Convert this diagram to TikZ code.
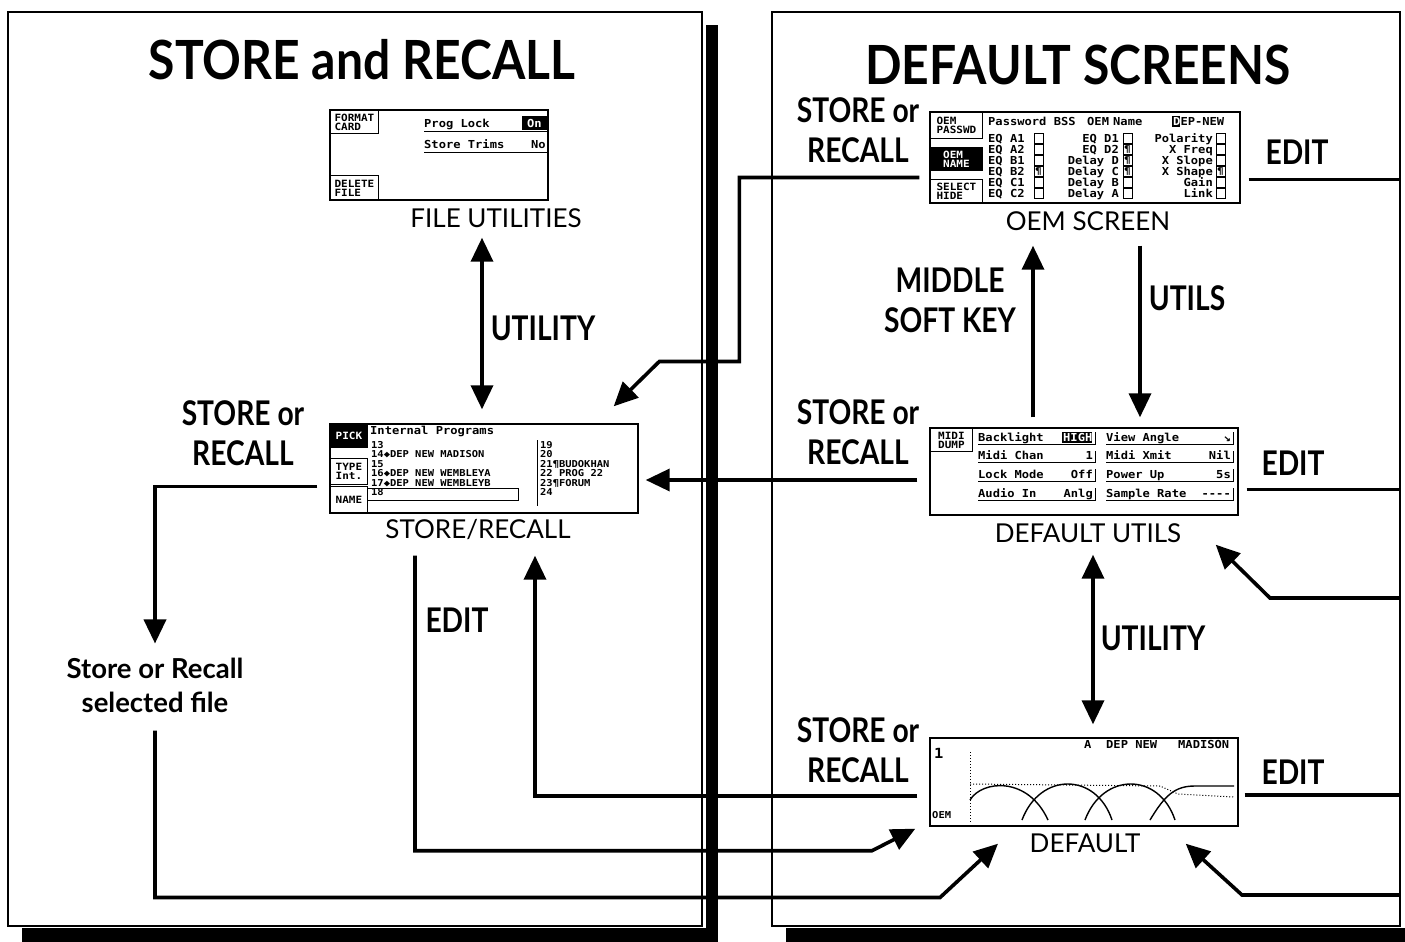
\documentclass[tikz,border=0pt]{standalone}
\usepackage{fontspec}
\setmainfont{Lato}
\newfontfamily\lblfont{Lato}[FakeStretch=0.83]
\newfontfamily\ttlfont{Lato}[FakeStretch=0.89]
\newfontfamily\lcdfont{DejaVu Sans Mono}[FakeStretch=1.1]
\usetikzlibrary{arrows.meta,positioning,calc}
\tikzset{
  >={Triangle[length=24pt,width=22pt]},
  panel/.style={draw, line width=2.6pt, fill=white},
  screen/.style={draw, line width=1.4pt, inner sep=0pt, fill=white},
  capt/.style={font=\fontsize{26}{28}\selectfont, inner sep=0pt},
  lbl/.style={font=\lblfont\bfseries\fontsize{34}{40}\selectfont, align=center, inner sep=0pt},
  ttl/.style={font=\ttlfont\bfseries\fontsize{54}{60}\selectfont, inner sep=0pt},
  lcd/.style={font=\lcdfont\bfseries\fontsize{11}{11}\selectfont, inner sep=0pt, anchor=base west},
  lcdsm/.style={font=\lcdfont\bfseries\fontsize{9.5}{9.5}\selectfont, inner sep=0pt, anchor=base west},
  softkey/.style={draw, line width=0.9pt, font=\lcdfont\bfseries\fontsize{10}{9}\selectfont,
              align=left, inner sep=1pt, anchor=north west},
  inv/.style={fill=black, text=white},
  thinln/.style={line width=0.9pt},
  flow/.style={->, line width=3.6pt},
  dflow/.style={<->, line width=3.6pt},
  link/.style={line width=3.6pt},
}
\begin{document}
\begin{tikzpicture}[x=1pt,y=-1pt]
  \useasboundingbox (0,0) rectangle (1405,942);
  % panels with drop shadow
  \fill (706,25) rectangle (718,942);
  \fill (22,928) rectangle (718,942);
  \draw[panel] (8,12) rectangle (702,926);
  \fill (786,928) rectangle (1405,942);
  \draw[panel] (772,12) rectangle (1400,926);
  \node[ttl] (ttlL) at (362,60) {STORE and RECALL};
  \node[ttl] (ttlR) at (1078,65) {DEFAULT SCREENS};

  % file utilities screen
  \node[screen, minimum width=218, minimum height=90] (fu) at (439,155) {};
  \node[softkey, minimum width=48, minimum height=23] at (330,110) {FORMAT\\CARD};
  \node[softkey, minimum width=48, minimum height=25] at (330,175) {DELETE\\FILE};
  \node[lcd] at (424,127) {Prog Lock};
  \fill (522,116) rectangle (547,130);
  \node[lcd, text=white] at (527,127) {On};
  \draw[thinln] (424,131) -- (548,131) -- (548,116);
  \node[lcd] at (424,148) {Store Trims};
  \node[lcd] at (531,148) {No};
  \draw[thinln] (424,152) -- (548,152) -- (548,137);
  \node[capt] (fucap) at (496,218) {FILE UTILITIES};

  % store/recall screen
  \node[screen, minimum width=308, minimum height=89] (sr) at (484,468.5) {};
  \node[softkey, inv, minimum width=37, minimum height=23] at (330,424) {PICK};
  \node[softkey, minimum width=37, minimum height=26] at (330,458) {TYPE\\Int.};
  \node[softkey, minimum width=37, minimum height=27] at (330,486) {NAME};
  \node[lcd] at (370,434) {Internal Programs};
  \foreach \r/\pa/\pb in {0/13/19, 1/14◆DEP NEW MADISON/20, 2/15/21¶BUDOKHAN,
                          3/16◆DEP NEW WEMBLEYA/22 PROG 22, 4/17◆DEP NEW WEMBLEYB/23¶FORUM, 5/18/24}{
    \pgfmathsetmacro{\yb}{448+9.5*\r}
    \node[lcdsm] at (371,\yb) {\pa};
    \node[lcdsm] at (540,\yb) {\pb};
  }
  \draw[thinln] (537,440) -- (537,506);
  \draw[thinln] (367,488) rectangle (518,500);
  \node[capt] (srcap) at (478,530) {STORE/RECALL};

  % oem screen
  \node[screen, minimum width=310, minimum height=91] (oem) at (1085,157.5) {};
  \node[softkey, minimum width=52, minimum height=26] at (930,112) {OEM\\PASSWD};
  \node[softkey, inv, minimum width=52, minimum height=23] at (930,147) {OEM\\NAME};
  \node[softkey, minimum width=52, minimum height=24] at (930,179) {SELECT\\HIDE};
  \node[lcd] at (988,125) {Password BSS};
  \node[lcd] at (1087,125) {OEM};
  \node[lcd] at (1113,125) {Name};
  \fill (1172,116) rectangle (1180,127);
  \node[lcd] at (1173,125) {\textcolor{white}{D}EP-NEW};
  \foreach \r/\ca/\cb/\cc/\ka/\kb/\kc in {0/EQ A1/EQ D1/Polarity/0/0/0,
                                         1/EQ A2/EQ D2/X Freq/0/1/0,
                                         2/EQ B1/Delay D/X Slope/0/1/0,
                                         3/EQ B2/Delay C/X Shape/1/1/1,
                                         4/EQ C1/Delay B/Gain/0/0/0,
                                         5/EQ C2/Delay A/Link/0/0/0}{
    \pgfmathsetmacro{\yb}{142+11*\r}
    \node[lcd] at (988,\yb) {\ca};
    \node[lcd, anchor=base east] at (1119,\yb) {\cb};
    \node[lcd, anchor=base east] at (1213,\yb) {\cc};
    \foreach \bx/\k in {1034/\ka, 1123/\kb, 1216/\kc}{
      \draw[thinln] (\bx,\yb+1) rectangle ++(9,-10);
      \ifnum\k=1 \node[lcdsm, anchor=center] at (\bx+4.5,\yb-4) {¶}; \fi
    }
  }
  \node[capt] (oemcap) at (1088,221) {OEM SCREEN};

  % default utils screen
  \node[screen, minimum width=308, minimum height=87] (du) at (1084,471.5) {};
  \node[softkey, minimum width=42, minimum height=23] at (930,428) {MIDI\\DUMP};
  \fill (1062,432) rectangle (1092,443);
  \node[lcd, text=white] at (1063,441) {HIGH};
  \foreach \r/\la/\va/\lb/\vb in {0/Backlight//View Angle/↘, 1/Midi Chan/1/Midi Xmit/Nil,
                                  2/Lock Mode/Off/Power Up/5s, 3/Audio In/Anlg/Sample Rate/----}{
    \pgfmathsetmacro{\yb}{441+18.7*\r}
    \node[lcd] at (978,\yb) {\la};
    \node[lcd, anchor=base east] at (1093,\yb) {\va};
    \draw[thinln] (978,\yb+3) -- (1095,\yb+3) -- (1095,\yb-9);
    \node[lcd] at (1106,\yb) {\lb};
    \node[lcd, anchor=base east] at (1231,\yb) {\vb};
    \draw[thinln] (1106,\yb+3) -- (1233,\yb+3) -- (1233,\yb-9);
  }
  \node[capt] (ducap) at (1088,533) {DEFAULT UTILS};

  % default screen
  \node[screen, minimum width=308, minimum height=88] (df) at (1084,782) {};
  \node[lcd, font=\lcdfont\bfseries\fontsize{14}{14}\selectfont] at (934,758) {1};
  \node[lcd] at (1084,748) {A};
  \node[lcd] at (1106,748) {DEP NEW};
  \node[lcd] at (1178,748) {MADISON};
  \node[lcdsm] at (932,818) {OEM};
  \draw[dotted, line width=1pt] (970,752) -- (970,822);
  \draw[dotted, line width=1pt] (970,784) -- (1160,786) -- (1178,794) -- (1234,797);
  \draw[line width=1.4pt] (970,800) .. controls (982,780) and (1028,776) .. (1048,820);
  \draw[line width=1.4pt] (1022,820) .. controls (1040,772) and (1096,772) .. (1112,820);
  \draw[line width=1.4pt] (1085,820) .. controls (1103,772) and (1159,772) .. (1175,820);
  \draw[line width=1.4pt] (1150,820) .. controls (1165,795) and (1175,786) .. (1195,786) -- (1234,786);
  \node[capt] (dfcap) at (1085,843) {DEFAULT};

  % labels
  \node[lbl] (srL) at (243,433) {STORE or\\RECALL};
  \node[lbl] (oemL) at (858,130) {STORE or\\RECALL};
  \node[lbl] (duL) at (858,432) {STORE or\\RECALL};
  \node[lbl] (dfL) at (858,750) {STORE or\\RECALL};
  \node[lbl] (oemE) at (1297,152) {EDIT};
  \node[lbl] (duE) at (1293,463) {EDIT};
  \node[lbl] (dfE) at (1293,772) {EDIT};
  \node[lbl] (srE) at (457,620) {EDIT};
  \node[lbl] (utilA) at (543,328) {UTILITY};
  \node[lbl] (utilB) at (1153,638) {UTILITY};
  \node[lbl] (utils) at (1187,298) {UTILS};
  \node[lbl] (midkey) at (950,300) {MIDDLE\\SOFT KEY};
  \node[font=\bfseries\fontsize{27.5}{34}\selectfont, align=center, inner sep=0pt]
       (sel) at (155,685) {Store or Recall\\selected file};

  % connectors
  \coordinate (rb) at (1400,0);
  \draw[dflow] ($(fucap.south -| sr.north)+(-2,10)$) -- ($(sr.north)+(-2,-14)$);
  \draw[flow] ($(du.north)+(-51,-10)$) -- ($(oemcap.south -| du.north)+(-51,15)$);
  \draw[flow] ($(oemcap.south -| du.north)+(56,15)$) -- ($(du.north)+(56,-10)$);
  \draw[dflow] ($(ducap.south -| df.north)+(9,12)$) -- ($(df.north)+(9,-13)$);
  \coordinate (oemR) at ($(oem.east)+(8,22)$);
  \coordinate (duR) at ($(du.east)+(8,18)$);
  \coordinate (dfR) at ($(df.east)+(6,13)$);
  \draw[link] (oemR) -- (oemR -| rb);
  \draw[link] (duR) -- (duR -| rb);
  \draw[link] (dfR) -- (dfR -| rb);
  \coordinate (rin1) at (1400,598);
  \coordinate (rin2) at (1400,895);
  \draw[flow] (rin1) -- ++(-130,0) -- ($(du.south east)+(-23,29)$);
  \draw[flow] (rin2) -- ++(-158,0) -- ($(df.south east)+(-53,17)$);
  \draw[flow] ($(oem.west)+(-10,20)$) -- ++(-180,0) -- ++(0,184) -- ++(-80,0)
              -- ($(sr.north east)+(-25,-17)$);
  \coordinate (duW) at ($(du.west)+(-12,8.5)$);
  \draw[flow] (duW) -- ($(duW -| sr.east)+(7,0)$);
  \draw[flow] ($(df.west)+(-12,14)$) -| ($(sr.south)+(51,42)$);
  \draw[flow] ($(sr.south)+(-69,42)$) -- ++(0,295) -- ++(457,0) -- ($(df.south west)+(-14,2)$);
  \draw[flow] ($(sr.west)+(-12,18)$) -| ($(sel.north)+(0,-14)$);
  \draw[flow] ($(sel.south)+(0,18)$) -- ++(0,167) -- ++(785,0) -- ($(df.south)+(-86,17)$);
\end{tikzpicture}
\end{document}
